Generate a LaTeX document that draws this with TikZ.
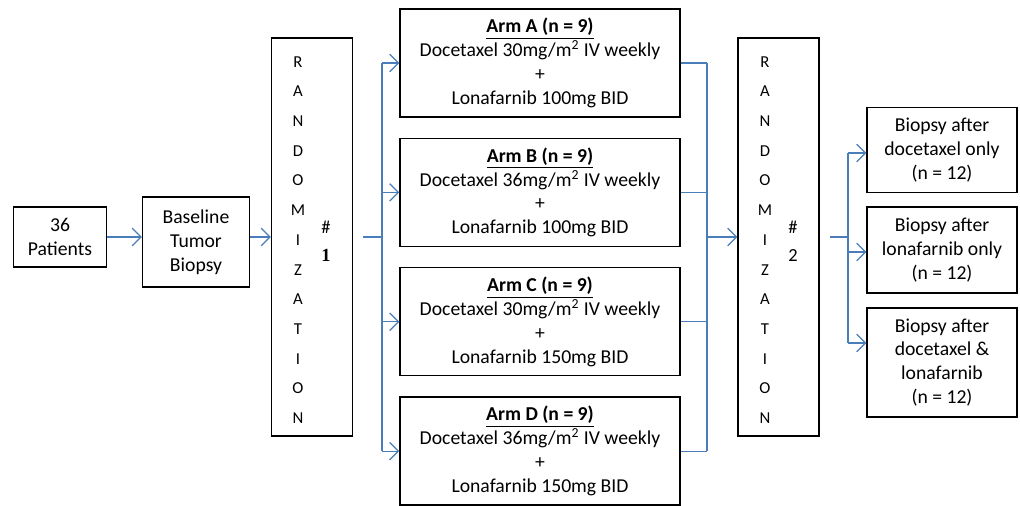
\documentclass[tikz,border=0pt]{standalone}
\usepackage{fontspec}
\setmainfont{Carlito}
\newfontfamily\numfont{Liberation Serif}
\usetikzlibrary{arrows.meta, positioning}
\definecolor{flowblue}{HTML}{4A7EBB}

\begin{document}
\begin{tikzpicture}[x=0.02cm, y=-0.02cm,
  box/.style={rectangle, draw=black, line width=0.8pt, align=center,
              font=\fontsize{11.2}{13.6}\selectfont, inner sep=0pt},
  randbox/.style={box, minimum width=1.62cm, minimum height=7.96cm},
  arm/.style={box, minimum width=5.6cm, minimum height=2.16cm},
  outbox/.style={box, minimum width=3cm},
  arr/.style={-{Straight Barb[length=5pt, width=10pt]}, line width=0.7pt, color=flowblue},
  ln/.style={line width=0.7pt, color=flowblue},
  letters/.style={align=center, font=\fontsize{9.5}{16.9}\selectfont, inner sep=0pt},
  tag/.style={align=center, font=\fontsize{10.5}{16}\selectfont, inner sep=0pt},
  node distance=0.4cm
]
\useasboundingbox (0,0) rectangle (1020,506);

% Enrolment
\node[box, minimum width=1.86cm, minimum height=1.2cm] (patients) at (60,237) {36\\Patients};
\node[box, minimum width=2.14cm, minimum height=1.8cm] (baseline) at (196,242) {Baseline\\Tumor\\Biopsy};

% Randomization #1
\node[randbox] (rand1) at (312,237) {};
\node[letters] (letters1) at (298,240) {R\\A\\N\\D\\O\\M\\I\\Z\\A\\T\\I\\O\\N};
\node[tag] (tag1) at (326,241) {\#\\{\numfont\bfseries 1}};

% Arms
\node[arm] (armA) at (540,63) {\underline{\textbf{Arm A (n = 9)}}\\Docetaxel 30mg/m\textsuperscript{2} IV weekly\\+\\Lonafarnib 100mg BID};
\node[arm, below=of armA] (armB) {\underline{\textbf{Arm B (n = 9)}}\\Docetaxel 36mg/m\textsuperscript{2} IV weekly\\+\\Lonafarnib 100mg BID};
\node[arm, below=of armB] (armC) {\underline{\textbf{Arm C (n = 9)}}\\Docetaxel 30mg/m\textsuperscript{2} IV weekly\\+\\Lonafarnib 150mg BID};
\node[arm, below=of armC] (armD) {\underline{\textbf{Arm D (n = 9)}}\\Docetaxel 36mg/m\textsuperscript{2} IV weekly\\+\\Lonafarnib 150mg BID};

% Randomization #2
\node[randbox] (rand2) at (778.5,237) {};
\node[letters] (letters2) at (765,240) {R\\A\\N\\D\\O\\M\\I\\Z\\A\\T\\I\\O\\N};
\node[tag] (tag2) at (793,241) {\#\\2};

% Biopsy groups
\node[outbox, minimum height=1.7cm] (out1) at (942,150) {Biopsy after\\docetaxel only\\(n = 12)};
\node[outbox, minimum height=1.72cm] (out2) at (942,250) {Biopsy after\\lonafarnib only\\(n = 12)};
\node[outbox, minimum height=2.18cm] (out3) at (942,362.5) {Biopsy after\\docetaxel \&\\lonafarnib\\(n = 12)};

% Fork points
\coordinate (r1out) at (363,237);
\coordinate (fork1) at (382,237);
\coordinate (merge) at (707,237);
\coordinate (r2out) at (830,237);
\coordinate (fork2) at (848,237);

% Arrows
\draw[arr] (patients.east |- rand1) -- (baseline.west |- rand1);
\draw[arr] (baseline.east |- rand1) -- (rand1.west);

\draw[ln] (r1out) -- (fork1);
\draw[ln] (fork1 |- armA) -- (fork1 |- armD);
\draw[arr] (fork1 |- armA) -- (armA.west);
\draw[arr] (fork1 |- armB) -- (armB.west);
\draw[arr] (fork1 |- armC) -- (armC.west);
\draw[arr] (fork1 |- armD) -- (armD.west);

\draw[ln] (armA.east) -- (merge |- armA);
\draw[ln] (armB.east) -- (merge |- armB);
\draw[ln] (armC.east) -- (merge |- armC);
\draw[ln] (armD.east) -- (merge |- armD);
\draw[ln] (merge |- armA) -- (merge |- armD);
\draw[arr] (merge) -- (rand2.west);

\draw[ln] (r2out) -- (fork2);
\draw[ln] ([yshift=-0.06cm]fork2 |- out1) -- ([yshift=0.39cm]fork2 |- out3);
\draw[arr] ([yshift=-0.06cm]fork2 |- out1) -- ([yshift=-0.06cm]out1.west);
\draw[arr] ([yshift=-0.04cm]fork2 |- out2) -- ([yshift=-0.04cm]out2.west);
\draw[arr] ([yshift=0.39cm]fork2 |- out3) -- ([yshift=0.39cm]out3.west);

\end{tikzpicture}
\end{document}
